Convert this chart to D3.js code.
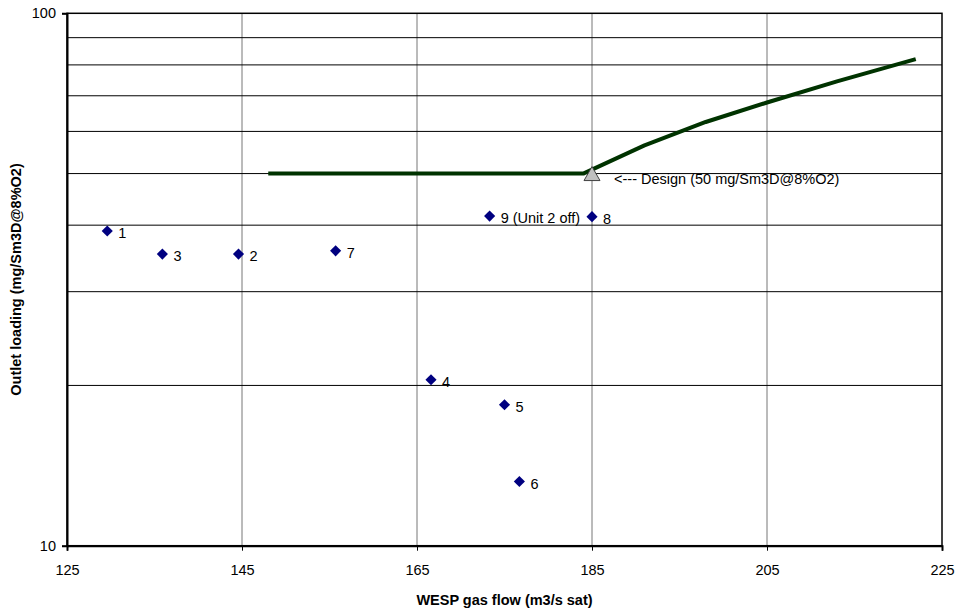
<!DOCTYPE html>
<html>
<head>
<meta charset="utf-8">
<script src="https://cdn.jsdelivr.net/npm/d3@7"></script>
<style>
  html, body { margin: 0; padding: 0; background: #fff; }
  text { font-family: "Liberation Sans", Arial, sans-serif; }
</style>
</head>
<body>
<svg id="chart" width="961" height="609"></svg>
<script>
// ---- data ----
const pointLabels = ["1", "2", "3", "4", "5", "6", "7", "8", "9 (Unit 2 off)"];
const pointFlow   = [129.6, 144.6, 135.9, 166.6, 175.0, 176.7, 155.7, 185.0, 173.3];
const pointLoad   = [39.0, 35.3, 35.3, 20.5, 18.4, 13.2, 35.8, 41.5, 41.6];

const curveFlow = [148, 184, 191, 198, 205, 213, 222];
const curveLoad = [50, 50, 56.5, 62.5, 68, 74.5, 82];

const designFlow = [185];
const designLoad = [50];
const designLabel = "<--- Design (50 mg/Sm3D@8%O2)";

const xTicks = [125, 145, 165, 185, 205, 225];
const yTicks = [10, 100];
const yGrid  = [20, 30, 40, 50, 60, 70, 80, 90];

const xTitle = "WESP gas flow (m3/s sat)";
const yTitle = "Outlet loading (mg/Sm3D@8%O2)";

// ---- layout ----
const FS = 14.5;
const L = 67, R = 942, T = 13.3, B = 545.7;
const svg = d3.select("#chart");
const x = d3.scaleLinear().domain([125, 225]).range([L, R]);
const y = d3.scaleLog().domain([10, 100]).range([B, T]);

// gridlines
svg.append("g").selectAll("line").data(xTicks.slice(1, -1)).join("line")
  .attr("x1", d => x(d)).attr("x2", d => x(d))
  .attr("y1", T).attr("y2", B)
  .attr("stroke", "#777").attr("stroke-width", 1);
svg.append("g").selectAll("line").data(yGrid).join("line")
  .attr("x1", L).attr("x2", R)
  .attr("y1", d => y(d)).attr("y2", d => y(d))
  .attr("stroke", "#000").attr("stroke-width", 1);

// plot border
svg.append("rect").attr("x", L).attr("y", T).attr("width", R - L).attr("height", B - T)
  .attr("fill", "none").attr("stroke", "#000").attr("stroke-width", 1.5);

// axes
const xAxis = svg.append("g").attr("transform", `translate(0,${B})`)
  .call(d3.axisBottom(x).tickValues(xTicks).tickSize(5).tickPadding(14).tickFormat(d3.format("d")));
const yAxis = svg.append("g").attr("transform", `translate(${L},0)`)
  .call(d3.axisLeft(y).tickValues(yTicks).tickSize(5).tickPadding(6).tickFormat(d3.format("d")));
[xAxis, yAxis].forEach(g => {
  g.select(".domain").attr("stroke", "#000").attr("stroke-width", 2);
  g.selectAll(".tick line").attr("stroke", "#000");
  g.selectAll(".tick text").attr("font-size", FS).attr("fill", "#000")
    .attr("font-family", "'Liberation Sans', Arial, sans-serif");
});

// design curve
const line = d3.line().x(d => x(d[0])).y(d => y(d[1]));
svg.append("path")
  .datum(curveFlow.map((f, i) => [f, curveLoad[i]]))
  .attr("d", line)
  .attr("fill", "none").attr("stroke", "#003300").attr("stroke-width", 4)
  .attr("stroke-linejoin", "round");

// data points
const pts = pointFlow.map((f, i) => ({ f, v: pointLoad[i], label: pointLabels[i] }));
svg.append("g").selectAll("path").data(pts).join("path")
  .attr("d", d3.symbol().type(d3.symbolSquare).size(62))
  .attr("transform", d => `translate(${x(d.f)},${y(d.v)}) rotate(45)`)
  .attr("fill", "#000080");
svg.append("g").selectAll("text").data(pts).join("text")
  .attr("x", d => x(d.f) + 11).attr("y", d => y(d.v) + 7)
  .attr("font-size", FS).attr("fill", "#000")
  .text(d => d.label);

// design point
const des = designFlow.map((f, i) => ({ f, v: designLoad[i] }));
svg.append("g").selectAll("path").data(des).join("path")
  .attr("d", d => {
    const cx = x(d.f), cy = y(d.v);
    return `M${cx},${cy - 7}L${cx + 8},${cy + 7}L${cx - 8},${cy + 7}Z`;
  })
  .attr("fill", "#c0c0c0").attr("stroke", "#404040").attr("stroke-width", 1);
svg.append("g").selectAll("text").data(des).join("text")
  .attr("x", d => x(d.f) + 22).attr("y", d => y(d.v) + 10)
  .attr("font-size", FS).attr("fill", "#000")
  .text(designLabel);

// axis titles
svg.append("text").attr("x", (L + R) / 2).attr("y", 605)
  .attr("text-anchor", "middle").attr("font-size", FS).attr("font-weight", "bold")
  .text(xTitle);
svg.append("text").attr("transform", `translate(21,${(T + B) / 2}) rotate(-90)`)
  .attr("text-anchor", "middle").attr("font-size", FS).attr("font-weight", "bold")
  .text(yTitle);
</script>
</body>
</html>
